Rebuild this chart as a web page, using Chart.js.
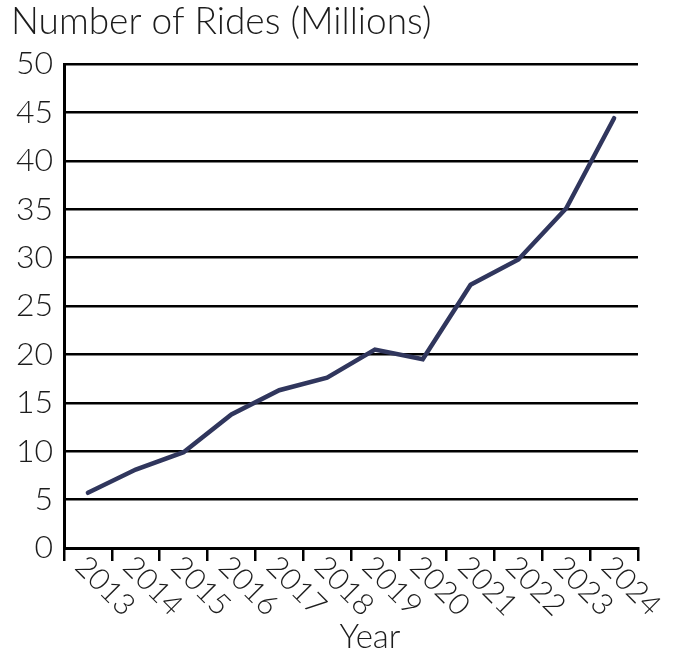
<!DOCTYPE html>
<html>
<head>
<meta charset="utf-8">
<script src="https://cdn.jsdelivr.net/npm/chart.js@4.4.1/dist/chart.umd.min.js"></script>
<style>
  html, body { margin: 0; padding: 0; background: #fff; }
  #wrap { width: 674px; height: 652px; position: relative; }
</style>
</head>
<body>
<div id="wrap"><canvas id="ridesChart"></canvas></div>
<script>
// rides per year, millions
var years = ["2013", "2014", "2015", "2016", "2017", "2018", "2019", "2020", "2021", "2022", "2023", "2024"]
var rides = [5.7, 8.1, 9.9, 13.8, 16.3, 17.6, 20.5, 19.5, 27.2, 29.8, 35.1, 44.4]
var yTicks = [0, 5, 10, 15, 20, 25, 30, 35, 40, 45, 50]

var fontFamily = "Lato, 'Open Sans', sans-serif"
var ink = "#1c1c1c"

// heading above the value axis, slanted year labels, axis name below
var axisText = {
    id: 'axisText',
    afterDraw: function(chart) {
        var xs = chart.scales.x
        var ctx = chart.ctx
        ctx.save()
        ctx.fillStyle = ink

        ctx.font = "300 37px " + fontFamily
        ctx.textAlign = 'left'
        ctx.textBaseline = 'alphabetic'
        ctx.fillText("Number of Rides (Millions)", 11, 34)

        ctx.font = "300 30px " + fontFamily
        ctx.textAlign = 'center'
        ctx.textBaseline = 'middle'
        years.forEach(function(label, i) {
            var px = xs.getPixelForValue(i)
            ctx.save()
            ctx.translate(px + 17, xs.top + 38)
            ctx.rotate(Math.PI / 4)
            ctx.fillText(label, 0, 0)
            ctx.restore()
        })

        ctx.font = "300 33px " + fontFamily
        ctx.fillText("Year", (xs.left + xs.right) / 2 + 19, xs.top + 89)
        ctx.restore()
    }
}

var ctx = document.getElementById("ridesChart").getContext('2d');
var ridesChart = new Chart(ctx, {
    type: 'line',
    data: {
        labels: years,
        datasets: [{
            data: rides,
            borderColor: "#30365d",
            borderWidth: 4.5,
            borderCapStyle: 'round',
            borderJoinStyle: 'miter',
            pointRadius: 0,
            tension: 0,
            fill: false
        }]
    },
    options: {
        responsive: true,
        maintainAspectRatio: false,
        animation: false,
        layout: { padding: { left: 0, right: 36, top: 64, bottom: 0 } },
        plugins: {
            legend: { display: false },
            tooltip: { enabled: false },
            title: { display: false }
        },
        scales: {
            x: {
                offset: true,
                grid: {
                    offset: true,
                    drawOnChartArea: false,
                    drawTicks: true,
                    tickLength: 13,
                    color: "#000",
                    lineWidth: 2.5
                },
                border: { color: "#000", width: 3 },
                ticks: { display: false },
                afterFit: function(scale) { scale.height = 104 }
            },
            y: {
                min: 0,
                max: 50,
                afterBuildTicks: function(scale) {
                    scale.ticks = yTicks.map(function(v) { return { value: v } })
                },
                grid: {
                    color: "#000",
                    lineWidth: 2.5,
                    drawTicks: false
                },
                border: { color: "#000", width: 3 },
                ticks: {
                    color: ink,
                    padding: 11,
                    font: { family: fontFamily, size: 32, weight: 300 }
                },
                afterFit: function(scale) { scale.width = 64 }
            }
        }
    },
    plugins: [axisText]
});
</script>
</body>
</html>
